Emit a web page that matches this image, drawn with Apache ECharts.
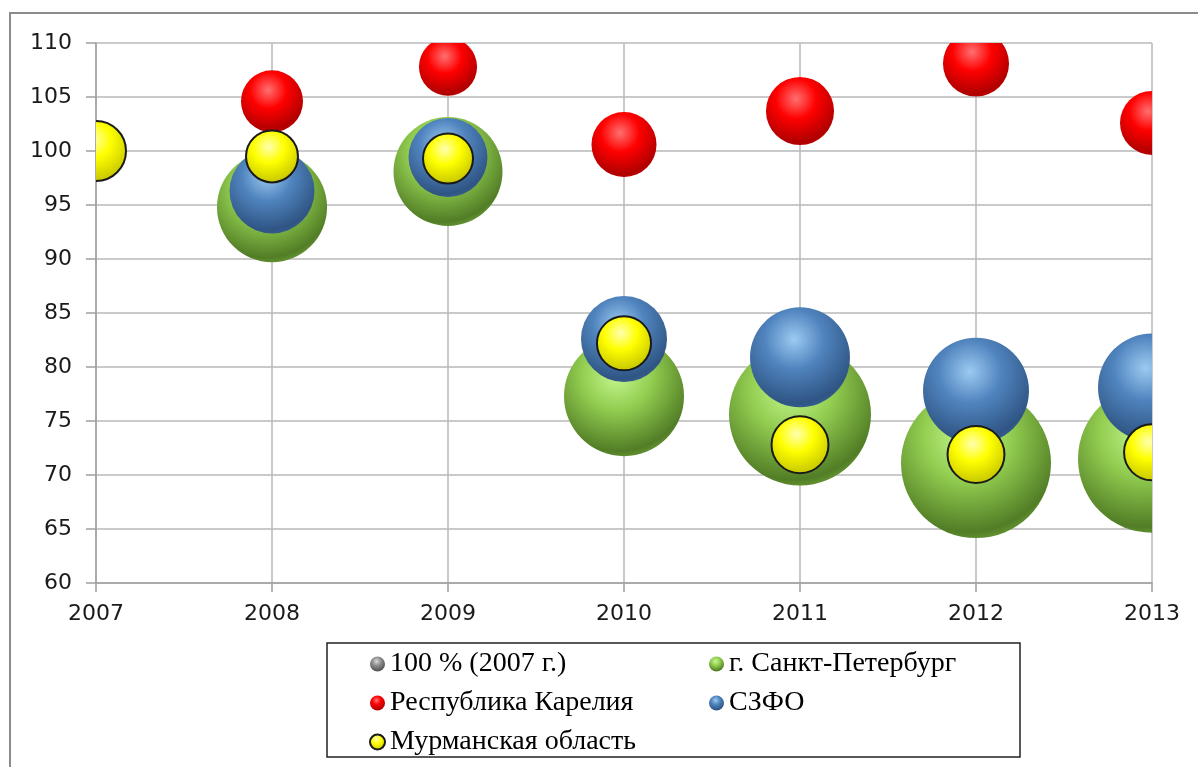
<!DOCTYPE html>
<html>
<head>
<meta charset="utf-8">
<script src="https://cdn.jsdelivr.net/npm/echarts@6/dist/echarts.min.js"></script>
<style>
html,body{margin:0;padding:0;background:#fff;}
#chart{width:1198px;height:767px;}
</style>
</head>
<body>
<div id="chart"></div>
<script>
// ---- data ----
var seriesNames = ['100 % (2007 г.)', 'г. Санкт-Петербург', 'Республика Карелия', 'СЗФО', 'Мурманская область'];

var baseYears = [2007];
var baseValues = [100];
var baseSizes = [16.0];

var spbYears = [2008, 2009, 2010, 2011, 2012, 2013];
var spbValues = [94.8, 98.1, 77.3, 75.6, 71.1, 71.5];
var spbSizes = [53.8, 52.8, 64.0, 89.6, 100.0, 97.3];

var kareliaYears = [2008, 2009, 2010, 2011, 2012, 2013];
var kareliaValues = [104.6, 107.8, 100.6, 103.7, 108.1, 102.6];
var kareliaSizes = [17.1, 15.0, 18.8, 20.6, 19.4, 18.2];

var szfoYears = [2008, 2009, 2010, 2011, 2012, 2013];
var szfoValues = [96.3, 99.4, 82.6, 80.9, 77.8, 78.1];
var szfoSizes = [32.1, 27.7, 32.9, 44.4, 49.9, 51.8];

var murmYears = [2007, 2008, 2009, 2010, 2011, 2012, 2013];
var murmValues = [100.0, 99.5, 99.3, 82.2, 72.8, 71.9, 72.1];
var murmSizes = [16.0, 12.0, 11.1, 13.0, 14.4, 14.4, 13.9];

var yTicks = [60, 65, 70, 75, 80, 85, 90, 95, 100, 105, 110];

// ---- styles ----
function sphere(light, base, dark, rim) {
  return {
    type: 'radial', x: 0.44, y: 0.32, r: 0.78, global: false,
    colorStops: [
      {offset: 0, color: light},
      {offset: 0.38, color: base},
      {offset: 0.82, color: dark},
      {offset: 1, color: rim}
    ]
  };
}
var fills = [
  sphere('#d8d8d8', '#8e8e8e', '#555555', '#777777'),
  sphere('#c6f890', '#92cd50', '#527d26', '#7db544'),
  sphere('#ff7070', '#ff0000', '#b00000', '#d00000'),
  sphere('#9ccaf2', '#5084be', '#2f5584', '#3c689c'),
  sphere('#ffffb0', '#ffff00', '#cccc00', '#e0e000')
];
var strokes = [null, null, null, null, '#1a1a1a'];
var strokeWidths = [0, 0, 0, 0, 2];
var SIZE_K = 7.5; // radius = SIZE_K * sqrt(bubble size)

function toData(xs, ys, ss) {
  return xs.map(function (x, i) { return [x, ys[i], ss[i]]; });
}
var seriesData = [
  toData(baseYears, baseValues, baseSizes),
  toData(spbYears, spbValues, spbSizes),
  toData(kareliaYears, kareliaValues, kareliaSizes),
  toData(szfoYears, szfoValues, szfoSizes),
  toData(murmYears, murmValues, murmSizes)
];

function makeSeries(idx) {
  return {
    type: 'custom',
    name: seriesNames[idx],
    coordinateSystem: 'cartesian2d',
    clip: true,
    encode: {x: 0, y: 1},
    itemStyle: {
      color: fills[idx],
      borderColor: strokes[idx] || 'transparent',
      borderWidth: strokeWidths[idx]
    },
    data: seriesData[idx],
    renderItem: function (params, api) {
      var p = api.coord([api.value(0), api.value(1)]);
      var r = SIZE_K * Math.sqrt(api.value(2));
      return {
        type: 'circle',
        shape: {cx: p[0], cy: p[1], r: r},
        style: {
          fill: fills[idx],
          stroke: strokes[idx] || null,
          lineWidth: strokeWidths[idx]
        }
      };
    }
  };
}

var gridColor = '#b8b8b8';
var axisColor = '#a0a0a0';
var labelFont = {fontFamily: 'DejaVu Sans', fontSize: 22, color: '#1a1a1a'};
var legendText = {fontFamily: 'Liberation Serif', fontSize: 28, color: '#000', lineHeight: 28};

function legendItem(idx) {
  return {
    name: seriesNames[idx],
    icon: 'circle',
    itemStyle: {
      color: fills[idx],
      borderColor: strokes[idx] || 'transparent',
      borderWidth: strokeWidths[idx]
    }
  };
}

var chart = echarts.init(document.getElementById('chart'), null, {renderer: 'canvas'});
chart.setOption({
  backgroundColor: '#ffffff',
  animation: false,
  grid: {left: 96, top: 43, right: 46, bottom: 184, containLabel: false},
  xAxis: {
    type: 'value', min: 2007, max: 2013, interval: 1,
    axisLine: {show: true, lineStyle: {color: axisColor, width: 1.5}},
    axisTick: {show: true, inside: false, length: 9, lineStyle: {color: axisColor, width: 1.5}},
    splitLine: {show: true, lineStyle: {color: gridColor, width: 1.5}},
    axisLabel: Object.assign({margin: 20, formatter: function (v) { return String(v); }}, labelFont)
  },
  yAxis: {
    type: 'value', min: yTicks[0], max: yTicks[yTicks.length - 1], interval: 5,
    axisLine: {show: true, lineStyle: {color: axisColor, width: 1.5}},
    axisTick: {show: true, inside: false, length: 10, lineStyle: {color: axisColor, width: 1.5}},
    splitLine: {show: true, lineStyle: {color: gridColor, width: 1.5}},
    axisLabel: Object.assign({margin: 24}, labelFont)
  },
  legend: [
    {
      orient: 'vertical', left: 369, top: 650, padding: 0,
      itemWidth: 15, itemHeight: 15, itemGap: 11,
      textStyle: legendText,
      data: [legendItem(0), legendItem(2), legendItem(4)],
      selectedMode: false
    },
    {
      orient: 'vertical', left: 709, top: 650, padding: 0,
      itemWidth: 15, itemHeight: 15, itemGap: 11,
      textStyle: legendText,
      data: [legendItem(1), legendItem(3)],
      selectedMode: false
    }
  ],
  graphic: [
    {type: 'rect', silent: true, z: -10,
     shape: {x: 10, y: 13, width: 1400, height: 1000},
     style: {fill: 'none', stroke: '#8c8c8c', lineWidth: 2}},
    {type: 'rect', silent: true, z: -5,
     shape: {x: 327, y: 643, width: 693, height: 114},
     style: {fill: 'none', stroke: '#222222', lineWidth: 1.5}}
  ],
  series: [makeSeries(0), makeSeries(1), makeSeries(2), makeSeries(3), makeSeries(4)]
});
</script>
</body>
</html>
